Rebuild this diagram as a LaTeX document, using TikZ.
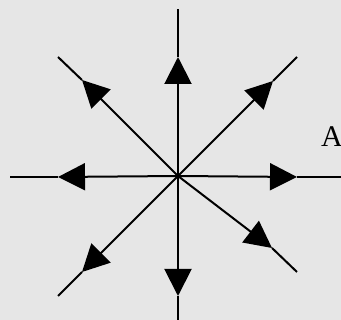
\documentclass[tikz,border=0pt]{standalone}
\usepackage{fontspec}
\setmainfont{Liberation Serif}
\usetikzlibrary{arrows.meta}
\definecolor{bg}{RGB}{230,230,230}
\begin{document}
\begin{tikzpicture}[x=1pt,y=-1pt,
  ray/.style={line width=2pt,-{Triangle[length=27pt,width=27pt]}},
  tail/.style={line width=2pt}]
\clip (0,0) rectangle (341,320);
\fill[bg] (0,0) rectangle (341,320);
\coordinate (O) at (178,176);
% tips
\coordinate (tU) at (178,57);
\coordinate (tD) at (178,296);
\coordinate (tL) at (58,177);
\coordinate (tR) at (297,177);
\coordinate (tUL) at (82,80);
\coordinate (tUR) at (273,81);
\coordinate (tLL) at (82,272);
\coordinate (tLR) at (272,248);
% ends
\coordinate (eU) at (178,9);
\coordinate (eD) at (178,322);
\coordinate (eL) at (10,177);
\coordinate (eR) at (343,177);
\coordinate (eUL) at (58,57);
\coordinate (eUR) at (297,57);
\coordinate (eLL) at (58,296);
\coordinate (eLR) at (297,272);
\foreach \d in {U,D,L,R,UL,UR,LL,LR}{
  \draw[tail] (t\d) -- (e\d);
  \draw[ray] (O) -- (t\d);
}
\node[anchor=base west,inner sep=0pt,font=\fontsize{30}{34}\selectfont] (lab) at (321,147) {A};
\end{tikzpicture}
\end{document}
